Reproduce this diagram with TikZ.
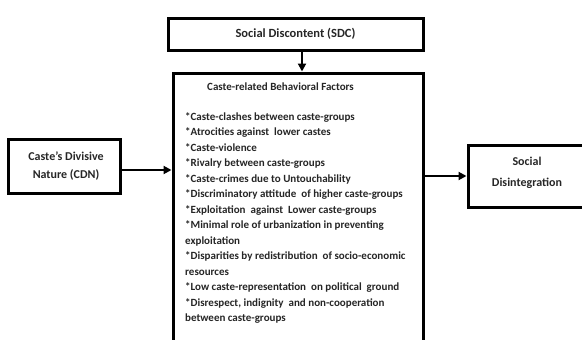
\documentclass[tikz,border=0pt]{standalone}
\usepackage{fontspec}
\setmainfont{Carlito}
\usetikzlibrary{arrows.meta,calc}
\begin{document}
\begin{tikzpicture}[x=1pt,y=-1pt,
  boxed/.style={draw=black,line width=3pt,fill=white,inner sep=0pt},
  txt/.style={font=\bfseries\fontsize{12}{18}\selectfont,text=black!85,align=center,inner sep=0pt},
  item/.style={font=\bfseries\fontsize{11}{13}\selectfont,text=black!85,anchor=mid west,inner sep=0pt},
  conn/.style={line width=2.6pt,-{Triangle[length=8pt,width=8pt]}}]
\useasboundingbox (0,0) rectangle (582,340);
\clip (0,0) rectangle (582,340);
\fill[white] (0,0) rectangle (582,340);
% boxes
\node[boxed,minimum width=255pt,minimum height=32pt] (SDC) at (295.5,34) {};
\node[txt,font=\bfseries\fontsize{12.5}{18}\selectfont] (SDCt) at (295.5,34) {Social Discontent (SDC)};
\node[boxed,minimum width=250pt,minimum height=290pt] (main) at (298,218) {};
\node[boxed,minimum width=112pt,minimum height=54pt] (CDN) at (64,166) {};
\node[txt] (CDNt) at (66,166) {Caste’s Divisive\\Nature (CDN)};
\node[boxed,minimum width=134pt,minimum height=62pt] (SD) at (535,176) {};
\node[txt,font=\bfseries\fontsize{12}{21}\selectfont] (SDt) at (527,173) {Social\\Disintegration};
% texts in main box
\node[item] (title) at (207,88) {Caste-related Behavioral Factors};
\foreach \t [count=\i] in {
  *Caste-clashes between caste-groups,
  *Atrocities against\ \ lower castes,
  *Caste-violence,
  *Rivalry between caste-groups,
  *Caste-crimes due to Untouchability,
  *Discriminatory attitude\ \ of higher caste-groups,
  *Exploitation\ \ against\ \ Lower caste-groups,
  *Minimal role of urbanization in preventing,
  exploitation,
  *Disparities by redistribution\ \ of socio-economic,
  resources,
  *Low caste-representation\ \ on political\ \ ground,
  {*Disrespect, indignity\ \ and non-cooperation},
  between caste-groups}
  \node[item] (l\i) at (185,{118+15.5*(\i-1)}) {\t};
% connectors
\coordinate (a1) at ($(SDC.south)+(6.5,0)$);
\coordinate (a2) at (a1 |- main.north);
\coordinate (b1) at ($(CDN.east)+(0,4)$);
\coordinate (b2) at (b1 -| main.west);
\coordinate (c1) at (SD.west -| main.east);
\draw[conn] (a1) -- (a2);
\draw[conn] (b1) -- (b2);
\draw[conn] (c1) -- (SD.west);
\end{tikzpicture}
\end{document}
